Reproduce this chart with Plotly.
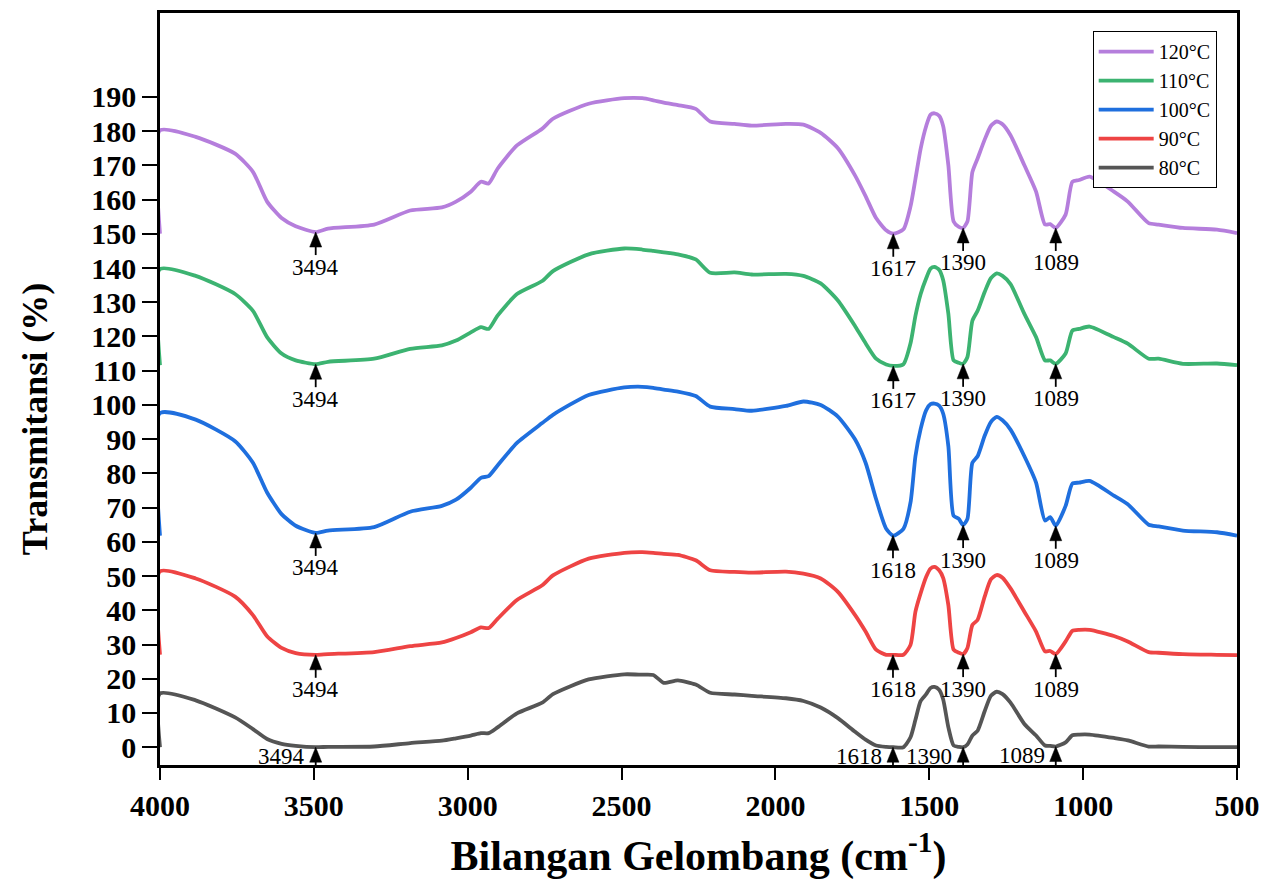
import numpy as np
import plotly.graph_objects as go

# Wavenumber grid (cm-1)
wavenumber = [4000, 4000, 3884, 3756, 3698, 3652, 3605, 3559, 3494, 3454, 3304, 3187, 3084, 3038,
              2990, 2957, 2932, 2903, 2840, 2758, 2723, 2607, 2491, 2433, 2397, 2363, 2317, 2259,
              2212, 2133, 2077, 1966, 1909, 1853, 1797, 1741, 1707, 1673, 1640, 1617, 1584, 1561,
              1545, 1528, 1510, 1496, 1483, 1468, 1455, 1438, 1421, 1404, 1390, 1376, 1360, 1343,
              1320, 1300, 1281, 1262, 1236,
              1191, 1153, 1124, 1107, 1089, 1057, 1035, 1013, 979, 900, 855, 787, 755, 676, 565, 500]

t120 = [150, 180.2, 178.3, 173.4, 168.1, 159.4, 154.6, 152.2, 150.5, 151.5, 152.7, 156.8, 157.7, 159.4,
        162.3, 165.2, 164.7, 169, 175.8, 180.7, 183.6, 188, 189.6, 189.6, 189, 188.3, 187.6, 186.5,
        182.8, 182.1, 181.6, 182.1, 181.9, 179.5, 175, 167, 161, 154.6, 151, 150, 151.3, 158,
        166, 174.9, 181.5, 184.8, 185.2, 184.5, 181.5, 170, 153.6, 152, 151.7, 153.6, 168, 172,
        177.5, 181.5, 182.8, 182, 178.8,
        170, 162.3, 152.7, 152.8, 151.7, 155.6, 165.2, 165.7, 166.7, 162.3, 159.4, 153.1, 152.7, 151.7, 151.2, 150.2]

t110 = [111.6, 139.7, 137.7, 132.4, 127.5, 119.8, 115, 113, 111.9, 112.6, 113.5, 116.4, 117.4, 118.8,
        121.2, 122.7, 122.2, 126.1, 132.4, 136.2, 139.1, 144, 145.7, 145.4, 145, 144.6, 144, 142.5,
        138.6, 138.7, 138.1, 138.3, 137.7, 135.5, 130.5, 123, 118, 113.5, 111.8, 111.4, 111.9, 118,
        126, 132.4, 137, 139.8, 140.3, 139.5, 136.5, 126.6, 113, 112.3, 112, 114, 124.6, 127.5,
        133, 137, 138.4, 137.7, 135.3,
        126.6, 119.8, 113, 113, 112, 115, 121.7, 122.2, 122.9, 119.8, 117.9, 113.5, 113.5, 112, 112.1, 111.6]

t100 = [61.8, 97.6, 95.7, 89.4, 83.1, 74.4, 68.1, 64.7, 62.6, 63.3, 64.3, 68.8, 70.5, 72.3,
        75.8, 78.7, 79.2, 82.3, 88.9, 94.7, 97.1, 102.9, 105.1, 105.3, 105, 104.5, 103.9, 102.6,
        99.5, 98.8, 98.3, 99.7, 101, 100, 96.6, 89.9, 83.1, 72.5, 63.8, 61.8, 63.8, 71.5,
        85, 93, 98.5, 100.2, 100.4, 99.8, 97.5, 87.9, 67.6, 66.7, 64.9, 66.7, 83.1, 85,
        91, 95, 96.5, 95.5, 92.8,
        85, 77.3, 66.2, 67.2, 64.7, 70.5, 77, 77.3, 77.8, 73.5, 71, 65, 64.5, 63.3, 62.8, 61.8]

t90 = [27, 51.4, 49.3, 44, 38.6, 32.4, 29, 27.5, 27, 27.2, 27.8, 29.5, 30.6, 31.9,
       33.6, 35, 34.8, 37.5, 43, 47.3, 50.2, 55.1, 56.8, 57, 56.8, 56.5, 56.2, 54.6,
       51.7, 51.2, 51, 51.3, 50.7, 49.3, 45.4, 38.6, 33.8, 28.5, 27, 27, 27, 29.9,
       39.6, 45, 49.8, 52.2, 52.7, 51.7, 49.5, 41.5, 28.5, 27.6, 27.2, 29, 35.7, 37.2,
       44, 49, 50.3, 49.5, 46.4,
       39.6, 33.8, 28, 28.1, 27.2, 30.9, 34, 34.3, 34.3, 32.5, 30.9, 27.8, 27.6, 27.2, 27, 26.9]

t80 = [0, 15.7, 13.7, 8.7, 5.3, 2.4, 1, 0.4, 0, 0.1, 0.2, 1.2, 1.9, 2.6,
       3.4, 4.1, 4.1, 5.8, 9.9, 13, 15.5, 19.8, 21.3, 21.2, 21.1, 18.8, 19.5, 18.3,
       15.9, 15.4, 15, 14.3, 13.5, 11.6, 8.5, 4.5, 2.2, 0.5, 0.1, 0, 0, 2.9,
       8, 13.5, 15.5, 17.3, 17.6, 16.8, 14, 5.8, 0.5, 0.1, 0, 0.8, 3.4, 4.8,
       10.5, 15, 16.2, 15.5, 13,
       6.8, 3.4, 0.5, 0.4, 0.2, 1.4, 3.5, 3.7, 3.7, 2.7, 2, 0.2, 0.2, 0.1, 0, 0]

series_names = ["80°C", "90°C", "100°C", "110°C", "120°C"]
series_values = [t80, t90, t100, t110, t120]
series_colors = ["#555555", "#EE4444", "#1F6FDE", "#3CB371", "#B57EDC"]

# Peak labels per series
peaks_80 = ["3494", "1618", "1390", "1089"]
peaks_90 = ["3494", "1618", "1390", "1089"]
peaks_100 = ["3494", "1618", "1390", "1089"]
peaks_110 = ["3494", "1617", "1390", "1089"]
peaks_120 = ["3494", "1617", "1390", "1089"]
series_peaks = [peaks_80, peaks_90, peaks_100, peaks_110, peaks_120]

y_ticks = list(range(0, 200, 10))
x_ticks = [4000, 3500, 3000, 2500, 2000, 1500, 1000, 500]

FONT = "Liberation Serif, Times New Roman, serif"

fig = go.Figure()
for name, vals, col in zip(series_names, series_values, series_colors):
    fig.add_trace(go.Scatter(
        x=wavenumber, y=vals, name=name, mode="lines",
        line=dict(color=col, width=3.8, shape="spline", smoothing=0.6),
    ))

wn_rev = wavenumber[::-1]
annotations = []
shapes = []
for i, (vals, peaks) in enumerate(zip(series_values, series_peaks)):
    v_rev = vals[::-1]
    for lab in peaks:
        xw = float(lab)
        yv = float(np.interp(xw, wn_rev, v_rev))
        shaft = 27 if i == 0 else 23
        shapes.append(dict(
            type="line", xref="x", yref="y", xsizemode="pixel", ysizemode="pixel",
            xanchor=xw, yanchor=yv, x0=0, x1=0, y0=-8, y1=-shaft,
            line=dict(color="black", width=1.8), layer="above"))
        shapes.append(dict(
            type="path", xref="x", yref="y", xsizemode="pixel", ysizemode="pixel",
            xanchor=xw, yanchor=yv, path="M0,0 L-6,-15 L6,-15 Z",
            fillcolor="black", line=dict(color="black", width=0.5), layer="above"))
        if i == 0:
            annotations.append(dict(
                x=xw, y=yv, xref="x", yref="y", text=lab, showarrow=False,
                xanchor="right", yanchor="middle", xshift=-9, yshift=-9,
                font=dict(family=FONT, size=23, color="black")))
        else:
            annotations.append(dict(
                x=xw, y=yv, xref="x", yref="y", text=lab, showarrow=False,
                xanchor="center", yanchor="middle", yshift=-35,
                font=dict(family=FONT, size=23, color="black")))

# y-axis title as a positioned text
annotations.append(dict(
    text="Transmitansi (%)", xref="paper", yref="paper", x=-0.116, y=0.46,
    xanchor="center", yanchor="middle", textangle=-90, showarrow=False,
    font=dict(family=FONT, size=36, color="black", weight="bold")))

fig.update_layout(
    width=1279, height=881,
    margin=dict(l=160, r=42, t=10, b=113),
    paper_bgcolor="white", plot_bgcolor="white",
    font=dict(family=FONT, color="black"),
    showlegend=True,
    legend=dict(
        x=0.866, y=0.976, xanchor="left", yanchor="top",
        traceorder="reversed", bordercolor="black", borderwidth=1,
        bgcolor="white", font=dict(family=FONT, size=20, color="black"),
        tracegroupgap=0, itemwidth=55,
    ),
    annotations=annotations,
    shapes=shapes,
)

fig.update_xaxes(
    range=[4000, 500], tickvals=x_ticks, ticktext=[str(v) for v in x_ticks],
    showline=True, linecolor="black", linewidth=2.5, mirror=True,
    ticks="outside", ticklen=12, tickwidth=2, tickcolor="black",
    showgrid=False, zeroline=False,
    tickfont=dict(family=FONT, size=30, color="black", weight="bold"),
    title=dict(text="Bilangan Gelombang (cm<sup>-1</sup>)", standoff=20,
               font=dict(family=FONT, size=42, color="black", weight="bold")),
)
fig.update_yaxes(
    range=[-5.2, 214.5], tickvals=y_ticks,
    showline=True, linecolor="black", linewidth=2.5, mirror=True,
    ticks="outside", ticklen=15, tickwidth=2, tickcolor="black",
    showgrid=False, zeroline=False, layer="below traces",
    tickfont=dict(family=FONT, size=30, color="black", weight="bold"),
)

fig.write_html("out.html")
